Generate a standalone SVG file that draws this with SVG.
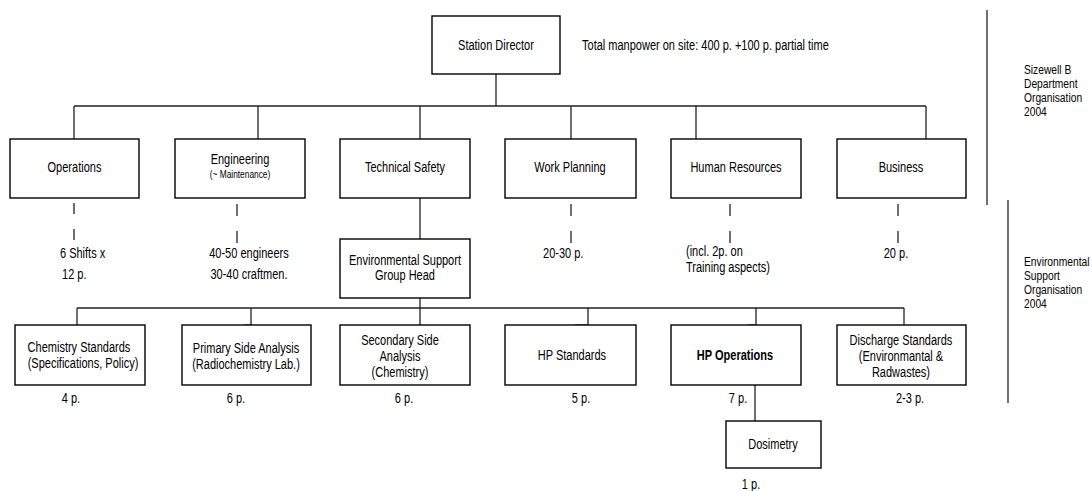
<svg xmlns="http://www.w3.org/2000/svg" width="1092" height="491" viewBox="0 0 1092 491">
<style>
text{font-family:"Liberation Sans",Arial,sans-serif;font-size:14.5px;fill:#000;transform:scale(0.76,1)}
.c{text-anchor:middle}
.s{font-size:11px}
.r{font-size:13.5px}
.b{font-weight:bold}
.box{fill:#fff;stroke:#000;stroke-width:1.4}
.ln{fill:none;stroke:#222;stroke-width:1.3}
.tk{fill:none;stroke:#000;stroke-width:3}
</style>
<g id="connectors">
<path class="ln" d="M496 74V106M74 106H926M74 106V139M258 106V139M420 106V139M571 106V139M696 106V139M926 106V139"/>
<path class="ln" d="M420 198V239M420 298V325M77 308H904M77 308V325M251 308V325M588 308V325M756 308V325M904 308V325M755 385V421"/>
<path class="ln" d="M74 203V214M74 229V240M237 204V216M237 231V243M571 204V216M571 231V243M730 204V216M730 231V243M898 204V216M898 231V243"/>
<path class="tk" d="M244 326H252M575 326H588M748 326H756"/>
<path class="ln" d="M987 10V205M1008 200V403"/>
</g>
<g id="station-director"><rect class="box" x="432" y="16" width="128" height="58"/><text class="c" x="652.6" y="50.5">Station Director</text></g>
<text x="765.8" y="50.5">Total manpower on site: 400 p. +100 p. partial time</text>
<g id="operations"><rect class="box" x="10" y="139" width="129" height="59"/><text class="c" x="98" y="172.5">Operations</text></g>
<g id="engineering"><rect class="box" x="175" y="139" width="130" height="59"/><text class="c" x="315.8" y="164">Engineering</text><text class="c s" x="315.8" y="178">(~ Maintenance)</text></g>
<g id="technical-safety"><rect class="box" x="340" y="139" width="130" height="59"/><text class="c" x="532.9" y="172.5">Technical Safety</text></g>
<g id="work-planning"><rect class="box" x="505" y="139" width="131" height="59"/><text class="c" x="750" y="172.5">Work Planning</text></g>
<g id="human-resources"><rect class="box" x="671" y="139" width="130" height="59"/><text class="c" x="968.4" y="172.5">Human Resources</text></g>
<g id="business"><rect class="box" x="837" y="139" width="129" height="59"/><text class="c" x="1185.5" y="172.5">Business</text></g>
<text x="78.9" y="258.5">6 Shifts x</text><text x="81.6" y="279.5">12 p.</text>
<text class="c" x="327.6" y="258.5">40-50 engineers</text><text class="c" x="327.6" y="279.5">30-40 craftmen.</text>
<text x="714.5" y="258.5">20-30 p.</text>
<text x="902.6" y="256.5">(incl. 2p. on</text><text x="902.6" y="272.5">Training aspects)</text>
<text class="c" x="1178.9" y="258.5">20 p.</text>
<g id="env-support-head"><rect class="box" x="340" y="239" width="130" height="59"/><text class="c" x="532.9" y="265">Environmental Support</text><text class="c" x="532.9" y="280.5">Group Head</text></g>
<g id="chemistry-standards"><rect class="box" x="15" y="325" width="130" height="60"/><text class="c" x="103.9" y="352">Chemistry Standards</text><text class="c" x="109.2" y="368">(Specifications, Policy)</text></g>
<g id="primary-side"><rect class="box" x="182" y="325" width="129" height="60"/><text class="c" x="323.7" y="353">Primary Side Analysis</text><text class="c" x="323.7" y="369">(Radiochemistry Lab.)</text></g>
<g id="secondary-side"><rect class="box" x="340" y="325" width="130" height="60"/><text class="c" x="526.3" y="345">Secondary Side</text><text class="c" x="526.3" y="361">Analysis</text><text class="c" x="526.3" y="377">(Chemistry)</text></g>
<g id="hp-standards"><rect class="box" x="505" y="325" width="131" height="60"/><text class="c" x="752.6" y="360.5">HP Standards</text></g>
<g id="hp-operations"><rect class="box" x="671" y="325" width="130" height="60"/><text class="c b" x="967.1" y="360.5">HP Operations</text></g>
<g id="discharge-standards"><rect class="box" x="837" y="325" width="129" height="60"/><text class="c" x="1185.5" y="345">Discharge Standards</text><text class="c" x="1185.5" y="361">(Environmantal &amp;</text><text class="c" x="1185.5" y="377">Radwastes)</text></g>
<g id="dosimetry"><rect class="box" x="726" y="421" width="95" height="47"/><text class="c" x="1017.1" y="449.5">Dosimetry</text></g>
<text class="c" x="93.4" y="403">4 p.</text>
<text class="c" x="310.5" y="403">6 p.</text>
<text class="c" x="531.6" y="403">6 p.</text>
<text class="c" x="764.5" y="403">5 p.</text>
<text class="c" x="971.1" y="403">7 p.</text>
<text class="c" x="1197.4" y="403">2-3 p.</text>
<text class="c" x="988.2" y="489">1 p.</text>
<text class="r" x="1347.4" y="74">Sizewell B</text><text class="r" x="1347.4" y="88">Department</text><text class="r" x="1347.4" y="102">Organisation</text><text class="r" x="1347.4" y="116">2004</text>
<text class="r" x="1347.4" y="266">Environmental</text><text class="r" x="1347.4" y="280">Support</text><text class="r" x="1347.4" y="294">Organisation</text><text class="r" x="1347.4" y="308">2004</text>
</svg>
